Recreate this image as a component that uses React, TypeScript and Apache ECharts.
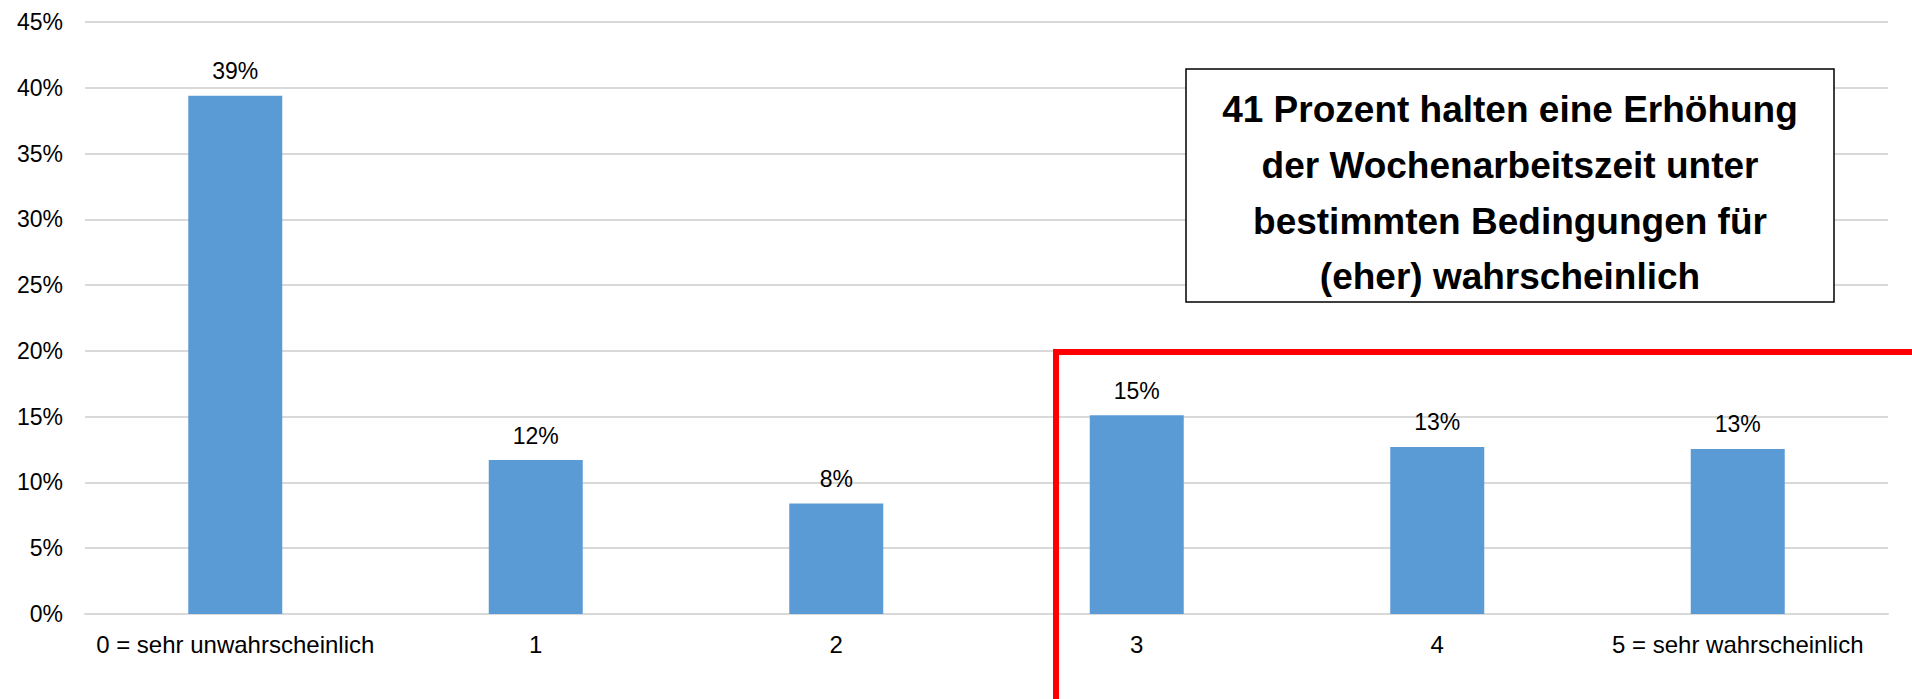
import React, { useEffect, useRef } from "react";
import * as echarts from "echarts";

const categories = [
  "0 = sehr unwahrscheinlich",
  "1",
  "2",
  "3",
  "4",
  "5 = sehr wahrscheinlich",
];
const shares = [39.4, 11.7, 8.4, 15.1, 12.7, 12.55];
const boxLines = [
  "41 Prozent halten eine Erhöhung",
  "der Wochenarbeitszeit unter",
  "bestimmten Bedingungen für",
  "(eher) wahrscheinlich",
];

const FONT = "Arial, 'Liberation Sans', sans-serif";

export default function App() {
  const ref = useRef<HTMLDivElement>(null);
  useEffect(() => {
    if (!ref.current) return;
    const chart = echarts.init(ref.current, undefined, { renderer: "svg" });
    const lineYs = [109, 165, 221, 276];
    chart.setOption({
      animation: false,
      backgroundColor: "#ffffff",
      grid: { left: 85, right: 24, top: 22, bottom: 85, containLabel: false },
      xAxis: {
        type: "category",
        data: categories,
        axisLine: { show: true, lineStyle: { color: "#d9d9d9", width: 2 } },
        axisTick: { show: false },
        axisLabel: {
          color: "#000",
          fontFamily: FONT,
          fontSize: 24,
          margin: 18,
          interval: 0,
        },
      },
      yAxis: {
        type: "value",
        min: 0,
        max: 45,
        interval: 5,
        axisLine: { show: false },
        axisTick: { show: false },
        splitLine: { lineStyle: { color: "#d9d9d9", width: 2 } },
        axisLabel: {
          color: "#000",
          fontFamily: FONT,
          fontSize: 23,
          margin: 22,
          formatter: "{value}%",
        },
      },
      series: [
        {
          type: "bar",
          data: shares,
          barWidth: 94,
          itemStyle: { color: "#5b9bd5" },
          label: {
            show: true,
            position: "top",
            distance: 13,
            color: "#000",
            fontFamily: FONT,
            fontSize: 23,
            formatter: (p: any) => Math.round(p.value) + "%",
          },
        },
      ],
      graphic: [
        {
          type: "polyline",
          z: 100,
          shape: {
            points: [
              [1056, 705],
              [1056, 352],
              [1920, 352],
            ],
          },
          style: { stroke: "#ff0000", lineWidth: 6, fill: null },
        },
        {
          type: "rect",
          z: 100,
          shape: { x: 1186, y: 69, width: 648, height: 233 },
          style: { fill: "#ffffff", stroke: "#000000", lineWidth: 1.5 },
        },
        ...boxLines.map((t, i) => ({
          type: "text",
          z: 101,
          x: 1510,
          y: lineYs[i],
          style: {
            text: t,
            fill: "#000",
            font: `bold 37px ${FONT}`,
            textAlign: "center",
            textVerticalAlign: "middle",
          },
        })),
      ],
    });
    return () => chart.dispose();
  }, []);
  return (
    <div
      ref={ref}
      style={{ position: "fixed", left: 0, top: 0, width: 1912, height: 699 }}
    />
  );
}
